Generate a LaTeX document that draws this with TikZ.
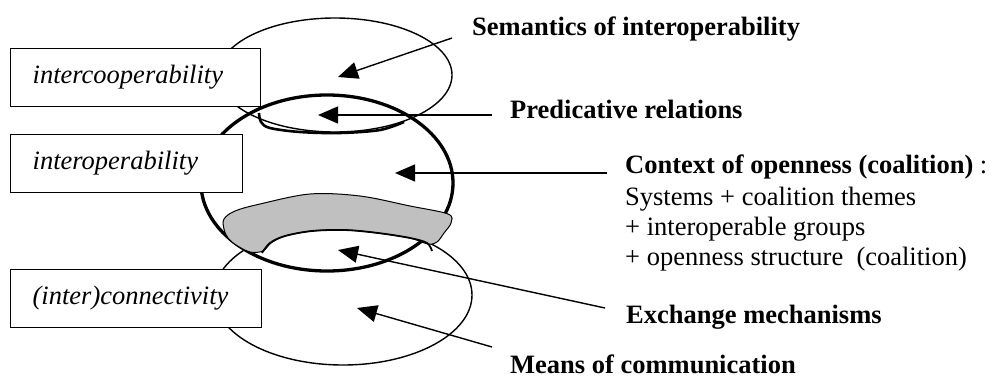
\documentclass[tikz,border=0pt]{standalone}
\usepackage{fontspec}
\setmainfont{Liberation Serif}
\usetikzlibrary{arrows.meta}
\definecolor{bandgray}{RGB}{192,192,192}
\begin{document}
\begin{tikzpicture}[x=1pt,y=-1pt,
  thinline/.style={line width=1.4pt},
  thickline/.style={line width=3.3pt},
  levelbox/.style={draw, fill=white, line width=1.3pt, anchor=north west,
    minimum height=58pt, inner xsep=22pt, inner ysep=0pt, align=left,
    font=\itshape\fontsize{26.5}{30}\selectfont},
  pointer/.style={line width=1.4pt, -{Triangle[length=20pt,width=17pt]}},
  headlabel/.style={anchor=base west, inner sep=0pt,
    font=\bfseries\fontsize{26.5}{30}\selectfont},
  plainlabel/.style={anchor=base west, inner sep=0pt,
    font=\fontsize{26.5}{30}\selectfont}]

\useasboundingbox[fill=white] (0,0) rectangle (991,383);

% the three layers
\draw[thinline] (343,295) ellipse [x radius=129pt, y radius=70pt];
\draw[thinline] (335,75) ellipse [x radius=117pt, y radius=57pt];
\draw[thickline] (327,183) ellipse [x radius=126pt, y radius=88pt];

% grey band between the middle and the lower layer
\draw[fill=bandgray, line width=1pt] plot[smooth cycle, tension=0.55] coordinates {
  (224,219) (235,211) (260,204) (310,194) (360,196) (410,206) (448,214)
  (451,223) (444,233) (437,242) (428,244) (410,238) (378,233) (345,230)
  (312,231) (285,236) (271,243) (263,251) (250,252) (236,245) (228,238) (224,229)};
\draw[line width=1.8pt] plot[smooth, tension=0.55] coordinates {
  (262,253) (270,243) (285,236) (312,231) (345,230) (378,233) (410,238) (427,243) (432,251)};

% lower edge of the upper layer inside the middle one
\draw[line width=2.6pt] plot[smooth, tension=0.55] coordinates {
  (259,113) (261,122) (270,128) (300,132) (340,133) (380,130) (404,122)};

% level boxes
\node[levelbox, minimum width=250pt, text width=206pt] (coop) at (10,48) {intercooperability};
\node[levelbox, minimum width=232pt, text width=188pt] (inter) at (10,134) {interoperability};
\node[levelbox, minimum width=251pt, text width=207pt] (conn) at (10,269) {(inter)connectivity};

% pointers
\coordinate (semT) at (452,38);  \coordinate (semH) at (338,77);
\coordinate (preT) at (492,115); \coordinate (preH) at (318,115);
\coordinate (ctxT) at (607,173); \coordinate (ctxH) at (395,173);
\coordinate (excT) at (605,308); \coordinate (excH) at (338,250);
\coordinate (meaT) at (492,347); \coordinate (meaH) at (357,308);
\draw[pointer] (semT) -- (semH);
\draw[pointer] (preT) -- (preH);
\draw[pointer] (ctxT) -- (ctxH);
\draw[pointer] (excT) -- (excH);
\draw[pointer] (meaT) -- (meaH);

% labels
\node[headlabel] (sem) at (472,35) {Semantics of interoperability};
\node[headlabel] (pre) at (510,118) {Predicative relations};
\node[headlabel] (ctx) at (625,173) {Context of openness (coalition)\textmd{ :}};
\node[plainlabel] (ctx1) at (625,205) {Systems + coalition themes};
\node[plainlabel] (ctx2) at (625,235) {+ interoperable groups};
\node[plainlabel] (ctx3) at (625,265) {+ openness structure\ \ (coalition)};
\node[headlabel] (exc) at (626,323) {Exchange mechanisms};
\node[headlabel] (mea) at (510,373) {Means of communication};
\end{tikzpicture}
\end{document}
